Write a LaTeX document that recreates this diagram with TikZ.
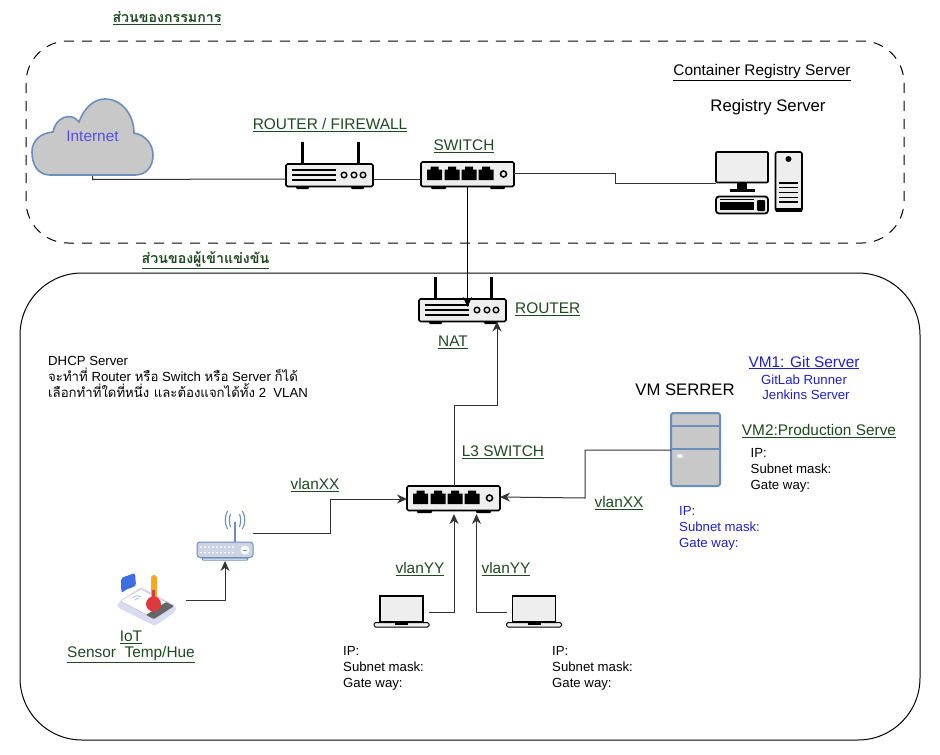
\documentclass[tikz,border=0pt]{standalone}
\usepackage{fontspec}
\setmainfont{Liberation Sans}
\newfontfamily\thaifont[Script=Thai]{Loma}
\usetikzlibrary{arrows.meta,calc}
\definecolor{lblgreen}{HTML}{1F4A1F}
\definecolor{lblblue}{HTML}{2020C8}
\definecolor{inetblue}{HTML}{5B4FE0}
\definecolor{iconfill}{HTML}{EEEEEE}
\definecolor{cloudfill}{HTML}{C8C8C8}
\definecolor{cloudedge}{HTML}{6C8EBF}
\definecolor{linegray}{HTML}{333333}
\definecolor{wifibody}{HTML}{CDD3E3}
\definecolor{phonebase}{HTML}{D9DBF2}
\definecolor{bubbleblue}{HTML}{3D6FE0}
\definecolor{thermo}{HTML}{F5A623}
\definecolor{bulbred}{HTML}{DC3A3F}
\newcommand{\thtxt}[1]{{\thaifont #1}}
\newcommand{\ulx}[1]{\underline{#1}}
\tikzset{
  anchorbox/.style={inner sep=0pt,outer sep=0pt,draw=none,fill=none},
  lbl/.style={inner sep=0pt,font=\fontsize{15.4}{18}\selectfont,text=black},
  thaihead/.style={inner sep=0pt,font=\fontsize{14.2}{16}\selectfont,text=lblgreen},
  greenlbl/.style={lbl,text=lblgreen},
  bluelbl/.style={lbl,text=lblblue},
  smalltxt/.style={inner sep=0pt,align=left,font=\fontsize{13.2}{16.1}\selectfont,text=black},
  smallblue/.style={smalltxt,text=lblblue},
  bigtxt/.style={inner sep=0pt,font=\fontsize{16.7}{19}\selectfont,text=black},
  link/.style={draw=linegray,line width=1pt},
  arrowlink/.style={link,-{Stealth[length=10pt,width=9pt]},shorten >=0pt},
  iconline/.style={draw=black,line width=1.6pt,fill=iconfill,rounded corners=1.5pt},
  boxouter/.style={draw=black,line width=1pt,rounded corners=42pt,dash pattern=on 10pt off 8pt},
  boxinner/.style={draw=black,line width=1pt,rounded corners=62pt},
}
% router: local frame 88x22
\newcommand{\routericon}[2]{%
  \begin{scope}[shift={(#1,#2)}]
    \draw[black,line width=3pt] (16,0) -- (16,-22);
    \draw[black,line width=3pt] (72,0) -- (72,-22);
    \fill[black,rounded corners=1pt] (10,21) rectangle (23,25);
    \fill[black,rounded corners=1pt] (65,21) rectangle (78,25);
    \draw[iconline] (0,0) rectangle (87,22.5);
    \foreach \yy in {6,11,16}{\draw[black,line width=1.5pt] (6,\yy) -- (50,\yy);}
    \foreach \xx in {58,68,77}{\draw[black,line width=1.4pt,fill=iconfill] (\xx,11) circle (2.8);}
  \end{scope}}
% switch: local frame 93x24
\newcommand{\switchicon}[2]{%
  \begin{scope}[shift={(#1,#2)}]
    \fill[black,rounded corners=1pt] (10,22) rectangle (25,27);
    \fill[black,rounded corners=1pt] (69,22) rectangle (84,27);
    \draw[iconline] (0,0) rectangle (93,24.5);
    \foreach \xx in {6,23.5,40.5,57.5}{%
      \fill[black] (\xx,7.5) -- (\xx+3.5,7.5) -- (\xx+3.5,4.5) -- (\xx+11.5,4.5) -- (\xx+11.5,7.5) -- (\xx+15,7.5) -- (\xx+15,18) -- (\xx,18) -- cycle;}
    \draw[black,line width=1.6pt,fill=iconfill] (82.5,12) circle (3);
  \end{scope}}
% laptop: local frame 55x31
\newcommand{\laptopicon}[2]{%
  \begin{scope}[shift={(#1,#2)}]
    \draw[black,line width=1.8pt,fill=iconfill] (6,0) rectangle (49,26);
    \draw[black,line width=1pt,fill=iconfill,rounded corners=1.5pt] (0,26.5) rectangle (55,31);
    \fill[black] (21,26.5) rectangle (34,28.5);
  \end{scope}}
\begin{document}
\begin{tikzpicture}[x=1pt,y=-1pt]
\useasboundingbox (0,0) rectangle (940,755);
\fill[white] (0,0) rectangle (940,755);

% zones
\node[anchorbox,minimum width=878pt,minimum height=202pt] (zoneA) at (465,142) {};
\node[anchorbox,minimum width=900pt,minimum height=467pt] (zoneB) at (470,506.5) {};
\draw[boxouter] (zoneA.north west) rectangle (zoneA.south east);
\draw[boxinner] (zoneB.north west) rectangle (zoneB.south east);

% anchors for the icons
\node[anchorbox,minimum width=121pt,minimum height=77pt] (cloud) at (92.5,137.5) {};
\node[anchorbox,minimum width=88pt,minimum height=22pt] (fw) at (330,175) {};
\node[anchorbox,minimum width=93pt,minimum height=24pt] (sw) at (467.5,174) {};
\node[anchorbox,minimum width=52pt,minimum height=31pt] (pc) at (742,167.5) {};
\node[anchorbox,minimum width=87pt,minimum height=23pt] (nat) at (462.5,310.5) {};
\node[anchorbox,minimum width=93pt,minimum height=25pt] (l3) at (453.5,498.5) {};
\node[anchorbox,minimum width=49pt,minimum height=73pt] (vm) at (695.5,449.5) {};
\node[anchorbox,minimum width=56pt,minimum height=19pt] (wifi) at (225,550.5) {};
\node[anchorbox,minimum width=62pt,minimum height=50pt] (iot) at (146,600) {};
\node[anchorbox,minimum width=55pt,minimum height=31pt] (lapA) at (401.5,611.5) {};
\node[anchorbox,minimum width=55pt,minimum height=31pt] (lapB) at (534,611.5) {};

% cloud
\draw[draw=cloudedge,line width=1.6pt,fill=cloudfill]
  (50,175) .. controls (38,175) and (32,165) .. (32,152)
  .. controls (32,141) and (40,133) .. (53,132)
  .. controls (55,118) and (71,111) .. (79,122)
  .. controls (85,106) and (95,99) .. (105,99)
  .. controls (122,99) and (134,115) .. (134,133)
  .. controls (146,135) and (153,145) .. (153,155)
  .. controls (153,167) and (146,175) .. (135,175) -- cycle;
\node[lbl,text=inetblue] (internettxt) at (92.5,136) {Internet};

% devices
\routericon{286}{164}
\switchicon{421}{162}
\routericon{419}{299}
\switchicon{407}{486}
\laptopicon{374}{596}
\laptopicon{506.5}{596}

% desktop computer
\begin{scope}[shift={(716,152)}]
  \draw[black,line width=1.6pt,fill=iconfill,rounded corners=1pt] (0,0) rectangle (52,30.5);
  \fill[black] (21,31) rectangle (31,37);
  \fill[black] (14,37) rectangle (39,39.5);
  \draw[black,line width=1.8pt,fill=iconfill,rounded corners=3pt] (0,44.5) rectangle (52,61.5);
  \fill[black] (4,50) rectangle (38,58);
  \draw[black,line width=1pt] (4,47.5) -- (38,47.5);
  \fill[black,rounded corners=1pt] (41,48) rectangle (49,59);
  \draw[black,line width=1.6pt,fill=iconfill,rounded corners=2pt] (59.5,0) rectangle (86,59);
  \fill[black] (60,55.5) rectangle (85.5,59.5);
  \fill[black] (72.5,7) circle (3);
  \foreach \yy in {31,35.5,40.5,45.5,50}{\draw[black,line width=1.4pt] (63,\yy) -- (82,\yy);}
\end{scope}

% VM server
\begin{scope}[shift={(671,413)}]
  \draw[draw=cloudedge,line width=2pt,fill=cloudfill,rounded corners=2.5pt] (0,0) rectangle (49,73);
  \draw[cloudedge,line width=2pt] (0,13) -- (49,13);
  \draw[cloudedge,line width=2pt] (0,36) -- (49,36);
  \fill[white] (9,43) ellipse (3 and 2);
\end{scope}

% wifi router
\begin{scope}[shift={(197,542)}]
  \draw[cloudedge,line width=1.8pt] (38,0) -- (38,-20);
  \draw[cloudedge,line width=1.1pt] (33.5,-15) .. controls (32,-20) and (32,-24) .. (33.5,-28);
  \draw[cloudedge,line width=1.1pt] (30.5,-13) .. controls (27.5,-19) and (27.5,-25) .. (30.5,-31);
  \draw[cloudedge,line width=1.1pt] (42.5,-15) .. controls (44,-20) and (44,-24) .. (42.5,-28);
  \draw[cloudedge,line width=1.1pt] (45.5,-13) .. controls (48.5,-19) and (48.5,-25) .. (45.5,-31);
  \draw[cloudedge,line width=1pt] (5,16) -- (51,16) -- (50,18) -- (6,18) -- cycle;
  \draw[draw=cloudedge,line width=1pt,fill=wifibody,rounded corners=3pt] (0,0) rectangle (56,15.5);
  \foreach \xx in {4,8,...,38}{\fill[white] (\xx,5) circle (1); \fill[white] (\xx,10.5) circle (1);}
  \fill[white] (48,8) circle (4.5);
  \draw[cloudedge,line width=0.8pt] (46,8) -- (50,8);
\end{scope}

% IoT device
\fill[phonebase,rounded corners=3pt] (117,604) -- (117,607) -- (155,626) -- (176,611) -- (176,606) -- (141,587) -- cycle;
\fill[white,rounded corners=2pt] (120,601) -- (141,589) -- (174,606) -- (155,619) -- cycle;
\draw[black!25,line width=0.5pt,rounded corners=2pt] (120,601) -- (141,589) -- (174,606) -- (155,619) -- cycle;
\fill[black!60,rounded corners=1pt] (154,619) -- (174,606) -- (166,602) -- (146,615) -- cycle;
\fill[bubbleblue,rounded corners=2pt] (121,578) -- (135,573) -- (136,586) -- (125,590) -- (122,593) -- (121,589) -- cycle;
\fill[thermo] (151,578) rectangle (157,600);
\fill[thermo] (154,578) circle (3);
\fill[bulbred] (153.5,604) circle (7.5);
\fill[bulbred] (152.3,590) rectangle (154.8,600);
\draw[bubbleblue!50,line width=0.7pt] (133,598) .. controls (136,595) and (139,595) .. (141,597);
\draw[bubbleblue!50,line width=0.7pt] (135,600) .. controls (137,598) and (138,598) .. (139,599);

% connectors (above the icons, as in the reference)
\draw[link] (cloud.south) -- ++(0,3.5) -- ([yshift=-4pt]fw.west);
\draw[link] ([yshift=-4pt]fw.east) -- ([yshift=-5pt]sw.west);
\draw[link] ([yshift=1pt]sw.east) -- ++(101,0) -- ++(0,10) -- ([yshift=-15.5pt]pc.west);
\draw[arrowlink,draw=black] ([yshift=-1pt]sw.south) -- ([xshift=5pt,yshift=3.5pt]nat.center);
\draw[arrowlink] ([xshift=0.5pt]l3.north) -- ++(0,-81) -- ++(43,0) -- ([xshift=34.5pt,yshift=0.5pt]nat.south);
\draw[arrowlink] (wifi.east) ++(0,-17.5) -- ++(77,0) -- ++(0,-34) -- ([yshift=-0.5pt]l3.west);
\draw[arrowlink] ([yshift=-0.5pt]vm.west) -- ++(-86,0) -- ++(0,48) -- ([yshift=1.5pt]l3.east);
\draw[arrowlink] ([xshift=9pt]iot.east) -- ++(39,0) -- ++(0,-39);
\draw[arrowlink] ([yshift=-0.5pt]lapA.east) -- ++(25,0) -- ++(0,-98);
\draw[arrowlink] ([yshift=-0.5pt]lapB.west) -- ++(-30,0) -- ++(0,-98);

% labels
\node[thaihead] (t1) at (167,18) {\thtxt{\bfseries\ulx{ส่วนของกรรมการ}}};
\node[thaihead] (t2) at (205.5,260) {\thtxt{\bfseries\ulx{ส่วนของผู้เข้าแข่งขัน}}};
\node[greenlbl] (t3) at (330,125) {\ulx{ROUTER / FIREWALL}};
\node[greenlbl] (t4) at (464,146) {\ulx{SWITCH}};
\node[greenlbl,anchor=west] (t5) at (515,309) {\ulx{ROUTER}};
\node[greenlbl] (t6) at (453,342) {\ulx{NAT}};
\node[greenlbl] (t7) at (503,452) {\ulx{L3 SWITCH}};
\node[greenlbl] (t8) at (315,485) {\ulx{vlanXX}};
\node[greenlbl] (t9) at (619,503) {\ulx{vlanXX}};
\node[greenlbl] (t10) at (420,569) {\ulx{vlanYY}};
\node[greenlbl] (t11) at (506,569) {\ulx{vlanYY}};
\node[greenlbl] (t12) at (131,637) {\ulx{IoT}};
\node[greenlbl] (t13) at (131,655) {\ulx{Sensor\ \ Temp/Hue}};
\node[lbl] (t14) at (762,73) {\ulx{Container Registry Server}};
\node[bigtxt] (t15) at (768,107) {Registry Server};
\node[bigtxt] (t16) at (685,390) {VM SERRER};
\node[bluelbl] (t17) at (804,362.5) {\ulx{VM1: Git Server}};
\node[smallblue] (t18) at (804,380) {GitLab Runner};
\node[smallblue] (t19) at (806,395) {Jenkins Server};
\node[greenlbl] (t20) at (819,431) {\ulx{VM2:Production Serve}};
\node[smalltxt,anchor=north west] (t21) at (750.5,448) {IP:\\Subnet mask:\\Gate way:};
\node[smallblue,anchor=north west] (t22) at (679,506.5) {IP:\\Subnet mask:\\Gate way:};
\node[smalltxt,anchor=north west] (t23) at (343,646) {IP:\\Subnet mask:\\Gate way:};
\node[smalltxt,anchor=north west] (t24) at (552,646) {IP:\\Subnet mask:\\Gate way:};
\node[smalltxt,anchor=north west] (t25) at (48,356) {DHCP Server\\
  \thtxt{จะทำที่} Router \thtxt{หรือ} Switch \thtxt{หรือ} Server \thtxt{ก็ได้}\\
  \thtxt{เลือกทำที่ใดที่หนึ่ง และต้องแจกได้ทั้ง} 2\ \ VLAN};
\end{tikzpicture}
\end{document}
